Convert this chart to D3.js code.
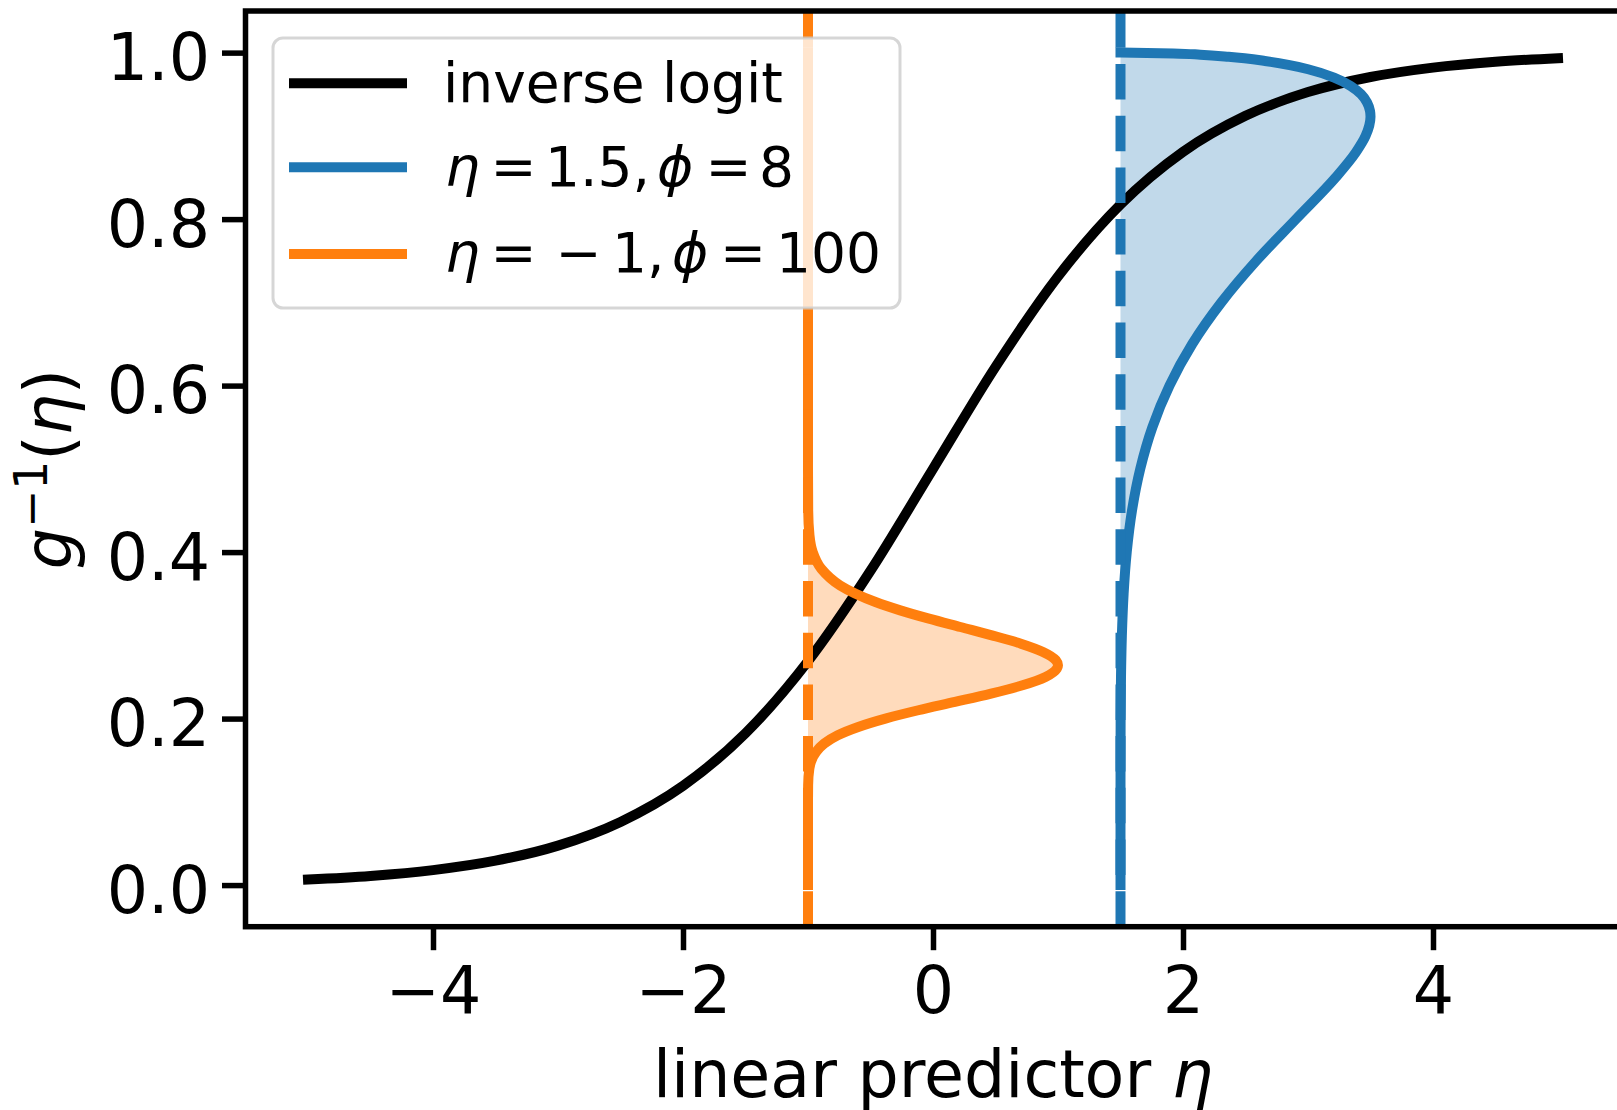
<!DOCTYPE html>
<html>
<head>
<meta charset="utf-8">
<script src="https://cdn.jsdelivr.net/npm/d3@7"></script>
<style>
body { margin: 0; background: #fff; }
text { font-family: "DejaVu Sans", sans-serif; }
</style>
</head>
<body>
<div id="chart"></div>
<script>
// black curve: inverse logit
var etaGrid = [-5, -4.5, -4, -3.5, -3, -2.5, -2, -1.5, -1, -0.5, 0, 0.5, 1, 1.5, 2, 2.5, 3, 3.5, 4, 4.5, 5];
var invLogit = [0.0067, 0.011, 0.018, 0.0293, 0.0474, 0.0759, 0.1192, 0.1824, 0.2689, 0.3775, 0.5,
    0.6225, 0.7311, 0.8176, 0.8808, 0.9241, 0.9526, 0.9707, 0.982, 0.989, 0.9933];

// beta densities lying on their side: height is g^-1, width is added to eta
var blueEta = 1.5;
var blueY = [0, 0.1, 0.2, 0.25, 0.3, 0.35, 0.4, 0.45, 0.5, 0.55, 0.6, 0.65, 0.7, 0.75, 0.8, 0.85, 0.88, 0.9,
    0.923, 0.93, 0.94, 0.95, 0.96, 0.97, 0.98, 0.985, 0.99, 0.995, 0.9975, 0.999, 1.0];
var blueWidth = [0, 0, 0.001, 0.004, 0.011, 0.025, 0.05, 0.092, 0.158, 0.255, 0.392, 0.574, 0.807, 1.087, 1.404, 1.721, 1.882, 1.961,
    2.0, 1.996, 1.973, 1.925, 1.841, 1.709, 1.501, 1.353, 1.155, 0.865, 0.638, 0.422, 0];

var orangeEta = -1;
var orangeY = [0, 0.1, 0.12, 0.14, 0.16, 0.17, 0.18, 0.19, 0.2, 0.21, 0.22, 0.23, 0.24, 0.25, 0.26, 0.264, 0.27,
    0.28, 0.29, 0.3, 0.31, 0.32, 0.33, 0.34, 0.35, 0.36, 0.38, 0.4, 0.42, 0.45, 0.5, 1.0];
var orangeWidth = [0, 0, 0.001, 0.011, 0.065, 0.13, 0.238, 0.402, 0.619, 0.882, 1.176, 1.464, 1.716, 1.9, 1.991, 2.0, 1.983,
    1.88, 1.703, 1.471, 1.219, 0.968, 0.738, 0.54, 0.381, 0.257, 0.106, 0.038, 0.012, 0.0015, 0, 0];

var xTicks = [-4, -2, 0, 2, 4];
var yTicks = [0, 0.2, 0.4, 0.6, 0.8, 1.0];

var svgWidth = 1617;
var svgHeight = 1110;
// plot box edges (right one falls just off the page, as in the original)
var axLeft = 245.5, axRight = 1620.5, axTop = 11, axBottom = 926.7;

var svg = d3.select("#chart")
    .append("svg")
    .attr("width", svgWidth)
    .attr("height", svgHeight);

var x = d3.scaleLinear().domain([-5.5, 5.5]).range([axLeft, axRight]);
var y = d3.scaleLinear().domain([-0.05, 1.05]).range([axBottom, axTop]);

svg.append("defs").append("clipPath")
    .attr("id", "plotArea")
    .append("rect")
    .attr("x", axLeft).attr("y", axTop)
    .attr("width", axRight - axLeft).attr("height", axBottom - axTop);

var plot = svg.append("g").attr("clip-path", "url(#plotArea)");

var series = [
    {eta: blueEta, ys: blueY, widths: blueWidth, color: "#1f77b4"},
    {eta: orangeEta, ys: orangeY, widths: orangeWidth, color: "#ff7f0e"}
];
series.forEach(function(s) {
    s.points = s.ys.map(function(v, i) { return {y: v, w: s.widths[i]}; });
});

// shaded densities
series.forEach(function(s) {
    plot.append("path")
        .datum(s.points)
        .attr("d", d3.area()
            .curve(d3.curveMonotoneY)
            .y(d => y(d.y))
            .x0(x(s.eta))
            .x1(d => x(s.eta + d.w)))
        .attr("fill", s.color)
        .attr("fill-opacity", 0.28);
});

plot.append("path")
    .datum(etaGrid.map((e, i) => [e, invLogit[i]]))
    .attr("d", d3.line().curve(d3.curveMonotoneX).x(d => x(d[0])).y(d => y(d[1])))
    .attr("fill", "none")
    .attr("stroke", "#000")
    .attr("stroke-width", 10)
    .attr("stroke-linecap", "square");

series.forEach(function(s) {
    plot.append("path")
        .datum(s.points)
        .attr("d", d3.line().curve(d3.curveMonotoneY).x(d => x(s.eta + d.w)).y(d => y(d.y)))
        .attr("fill", "none")
        .attr("stroke", s.color)
        .attr("stroke-width", 10)
        .attr("stroke-linecap", "square");
    // axvline
    plot.append("line")
        .attr("x1", x(s.eta)).attr("x2", x(s.eta))
        .attr("y1", axBottom).attr("y2", axTop)
        .attr("stroke", s.color)
        .attr("stroke-width", 10)
        .attr("stroke-dasharray", "35.5,16.2");
});

// spines
svg.append("rect")
    .attr("x", axLeft).attr("y", axTop)
    .attr("width", axRight - axLeft).attr("height", axBottom - axTop)
    .attr("fill", "none")
    .attr("stroke", "#000")
    .attr("stroke-width", 5.5);

var xAxis = d3.axisBottom(x)
    .tickValues(xTicks)
    .tickSize(23.5)
    .tickSizeOuter(0)
    .tickFormat(d => d < 0 ? "\u2212" + Math.abs(d) : String(d));

svg.append("g")
    .attr("transform", `translate(0, ${axBottom})`)
    .call(xAxis)
    .attr("font-family", "DejaVu Sans")
    .attr("font-size", 65)
    .call(g => g.select(".domain").remove())
    .call(g => g.selectAll(".tick line").attr("stroke", "#000").attr("stroke-width", 5.5))
    .call(g => g.selectAll(".tick text").attr("fill", "#000").attr("y", 1013 - axBottom).attr("dy", null));

var yAxis = d3.axisLeft(y)
    .tickValues(yTicks)
    .tickSize(23.5)
    .tickSizeOuter(0)
    .tickFormat(d3.format(".1f"));

svg.append("g")
    .attr("transform", `translate(${axLeft}, 0)`)
    .call(yAxis)
    .attr("font-family", "DejaVu Sans")
    .attr("font-size", 65)
    .call(g => g.select(".domain").remove())
    .call(g => g.selectAll(".tick line").attr("stroke", "#000").attr("stroke-width", 5.5))
    .call(g => g.selectAll(".tick text").attr("fill", "#000").attr("x", 210 - axLeft).attr("y", 27).attr("dy", null));

// axis labels
var xLabel = svg.append("text")
    .attr("x", 933)
    .attr("y", 1096.7)
    .attr("text-anchor", "middle")
    .attr("font-size", 65);
xLabel.append("tspan").text("linear predictor ");
xLabel.append("tspan").attr("font-style", "italic").text("\u03b7");

var yLabel = svg.append("text")
    .attr("transform", "translate(71.4, 469) rotate(-90)")
    .attr("text-anchor", "middle")
    .attr("font-size", 65);
yLabel.append("tspan").attr("font-style", "italic").text("g");
yLabel.append("tspan").attr("font-size", 45.5).attr("dy", -24.4).text("\u22121");
yLabel.append("tspan").attr("dy", 24.4).text("(");
yLabel.append("tspan").attr("font-style", "italic").text("\u03b7");
yLabel.append("tspan").text(")");

// legend
var legend = svg.append("g");
legend.append("rect")
    .attr("x", 273).attr("y", 38)
    .attr("width", 627).attr("height", 270)
    .attr("rx", 10)
    .attr("fill", "#fff").attr("fill-opacity", 0.8)
    .attr("stroke", "#cccccc").attr("stroke-opacity", 0.8)
    .attr("stroke-width", 3);

var legendRows = [
    {color: "#000", y: 83.3, parts: [{t: "inverse logit", x: 443}]},
    {color: "#1f77b4", y: 167.3, parts: [
        {t: "\u03b7", x: 445, it: true}, {t: "=", x: 490.5}, {t: "1.5,", x: 545},
        {t: "\u03d5", x: 657, it: true}, {t: "=", x: 705.5}, {t: "8", x: 759}]},
    {color: "#ff7f0e", y: 254, parts: [
        {t: "\u03b7", x: 445, it: true}, {t: "=", x: 490.5}, {t: "\u2212", x: 555.5}, {t: "1,", x: 612},
        {t: "\u03d5", x: 672, it: true}, {t: "=", x: 720}, {t: "100", x: 776}]}
];

legendRows.forEach(function(r) {
    legend.append("line")
        .attr("x1", 289).attr("x2", 407)
        .attr("y1", r.y).attr("y2", r.y)
        .attr("stroke", r.color)
        .attr("stroke-width", 10);
    var t = legend.append("text")
        .attr("y", r.y + 18.4)
        .attr("font-size", 55);
    r.parts.forEach(function(p) {
        t.append("tspan")
            .attr("x", p.x)
            .attr("font-style", p.it ? "italic" : null)
            .text(p.t);
    });
});
</script>
</body>
</html>
